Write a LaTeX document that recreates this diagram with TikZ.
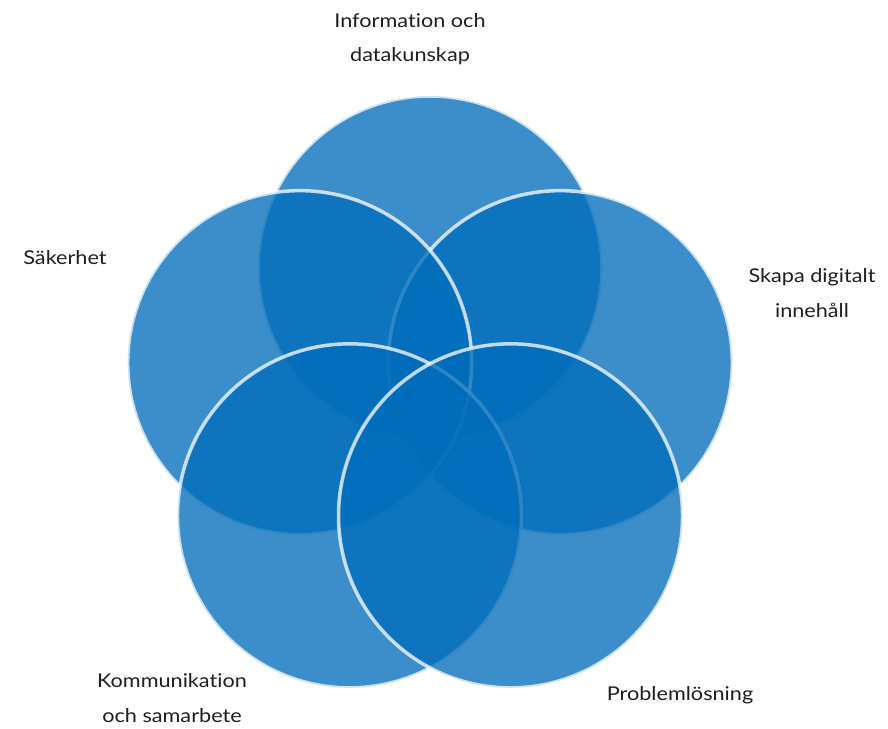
\documentclass[tikz,border=0pt]{standalone}
\usepackage{fontspec}
\setmainfont[FakeStretch=1.14,Ligatures={NoCommon,NoRare}]{Lato}
\usepackage{tikz}
\usetikzlibrary{calc,positioning}
\definecolor{petalblue}{RGB}{0,108,186}
\definecolor{labelgray}{RGB}{30,30,30}

\begin{document}
\begin{tikzpicture}[x=1pt,y=1pt,
    petal/.style={circle, minimum size=344pt, inner sep=0pt,
                  fill=petalblue, fill opacity=0.77,
                  draw=white, draw opacity=0.75, line width=3.5pt},
    area/.style={align=center, text=labelgray,
                 font=\fontsize{19}{34.5}\selectfont}]
           \useasboundingbox (0,0) rectangle (888,728);
           \coordinate (mid) at (430,323);
           % the five areas
           \node[petal] (info)  at ($(mid)+(90:137)$)  {};
           \node[petal] (skapa) at ($(mid)+(18:137)$)  {};
           \node[petal] (saker) at ($(mid)+(162:137)$) {};
           \node[petal] (komm)  at ($(mid)+(234:137)$) {};
           \node[petal] (prob)  at ($(mid)+(306:137)$) {};
           % labels
           \node[area] (l_info)  at (410,689) {Information och\\datakunskap};
           \node[area] (l_saker) at (65,470)  {Säkerhet};
           \node[area] (l_skapa) at (812,435) {Skapa digitalt\\innehåll};
           \node[area] (l_komm)  at (172,30)  {Kommunikation\\och samarbete};
           \node[area] (l_prob)  at (680,33)  {Problemlösning};
        \end{tikzpicture}
\end{document}
